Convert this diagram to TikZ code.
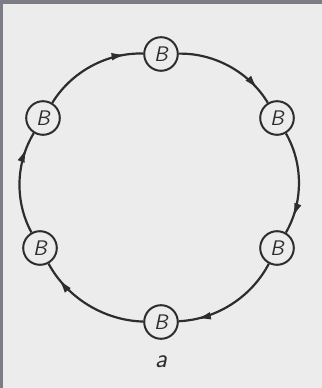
\documentclass[tikz,border=0pt]{standalone}
\usetikzlibrary{arrows.meta,decorations.markings}
\definecolor{paper}{RGB}{236,236,236}
\definecolor{frame}{RGB}{124,124,132}
\definecolor{ink}{RGB}{45,45,45}

\begin{document}
\begin{tikzpicture}[
  x=0.25mm, y=-0.25mm,
  bnode/.style={
    circle,
    draw=ink,
    line width=0.5mm,
    fill=paper,
    minimum size=8.4mm,
    inner sep=0pt,
    text=ink,
    font=\fontsize{15}{15}\selectfont\sffamily\slshape
  },
  link/.style={
    ink,
    line width=0.55mm,
    bend left=30,
    looseness=0.9,
    postaction={decorate},
    decoration={markings,
      mark=at position 0.84 with {\arrow{Latex[length=3.6mm,width=1.9mm]}}}
  }
  ]
  \useasboundingbox (0,0) rectangle (322,388);
  \fill[frame] (0,0) rectangle (322,388);
  \fill[paper] (3,4) rectangle (322,388);

  \node[bnode] (t) at (161,54) {B};
  \node[bnode] (ur) at (277,118) {B};
  \node[bnode] (lr) at (277,248) {B};
  \node[bnode] (b) at (161,322) {B};
  \node[bnode] (ll) at (40,248) {B};
  \node[bnode] (ul) at (43,118) {B};

  \draw[link] (t) to (ur);
  \draw[link] (ur) to (lr);
  \draw[link] (lr) to (b);
  \draw[link] (b) to (ll);
  \draw[link] (ll) to (ul);
  \draw[link] (ul) to (t);

  \node[text=ink, font=\fontsize{19}{19}\selectfont\sffamily\slshape] (cap) at (161,362) {a};
\end{tikzpicture}
\end{document}
